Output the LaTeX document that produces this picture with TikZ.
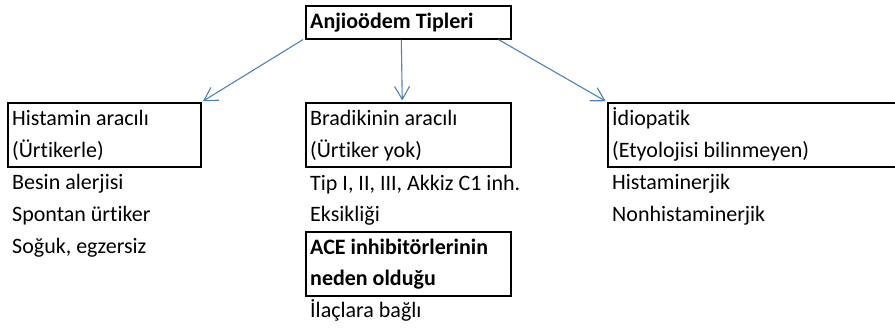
\documentclass[tikz,border=0pt]{standalone}
\usepackage{fontspec}
\setmainfont{Carlito}[Ligatures=NoCommon]
\usetikzlibrary{arrows.meta}
\definecolor{okmavi}{HTML}{4F81BD}
\begin{document}
\begin{tikzpicture}[x=1pt,y=-1pt,
    every node/.style={font=\fontsize{22}{32}\selectfont, inner sep=0pt},
    kutu/.style={draw, line width=1.6pt, anchor=north west, minimum height=64},
    satir/.style={anchor=base west},
    kalin/.style={satir, font=\fontsize{22}{32}\selectfont\bfseries},
    ok/.style={draw=okmavi, line width=1.1pt, shorten >=1.5pt, -{Straight Barb[length=13pt,width=15pt]}}]
    \useasboundingbox (0,0) rectangle (895,328);
    \clip (0,0) rectangle (895,328);
    % ust baslik
    \node[kutu, minimum width=205, minimum height=33] (tip) at (305,5) {};
    \node[kalin] (tipyazi) at (310,29) {Anjioödem Tipleri};
    % kutular
    \node[kutu, minimum width=193] (hist) at (7,102) {};
    \node[kutu, minimum width=205] (brad) at (305,102) {};
    \node[kutu, minimum width=400] (idio) at (607,102) {};
    \node[kutu, minimum width=205] (ace) at (305,231) {};
    % sol sutun
    \node[satir] (hist1) at (12,126) {Histamin aracılı};
    \node[satir] (hist2) at (12,158) {(Ürtikerle)};
    \node[satir] (hist3) at (12,190) {Besin alerjisi};
    \node[satir] (hist4) at (12,222) {Spontan ürtiker};
    \node[satir] (hist5) at (12,254) {Soğuk, egzersiz};
    % orta sutun
    \node[satir] (brad1) at (310,126) {Bradikinin aracılı};
    \node[satir] (brad2) at (310,158) {(Ürtiker yok)};
    \node[satir] (brad3) at (310,191) {Tip I, II, III, Akkiz C1 inh.};
    \node[satir] (brad4) at (310,222) {Eksikliği};
    \node[kalin] (ace1) at (310,255) {ACE inhibitörlerinin};
    \node[kalin] (ace2) at (310,286) {neden olduğu};
    \node[satir] (ace3) at (310,318) {İlaçlara bağlı};
    % sag sutun
    \node[satir] (idio1) at (612,126) {İdiopatik};
    \node[satir] (idio2) at (612,158) {(Etyolojisi bilinmeyen)};
    \node[satir] (idio3) at (612,190) {Histaminerjik};
    \node[satir] (idio4) at (612,222) {Nonhistaminerjik};
    % oklar
    \draw[ok] ([xshift=-2pt]tip.south west) -- (hist.north east);
    \draw[ok] ([xshift=-7pt]tip.south) -- ([xshift=-6pt]brad.north);
    \draw[ok] ([xshift=-13pt]tip.south east) -- (idio.north west);
\end{tikzpicture}
\end{document}
